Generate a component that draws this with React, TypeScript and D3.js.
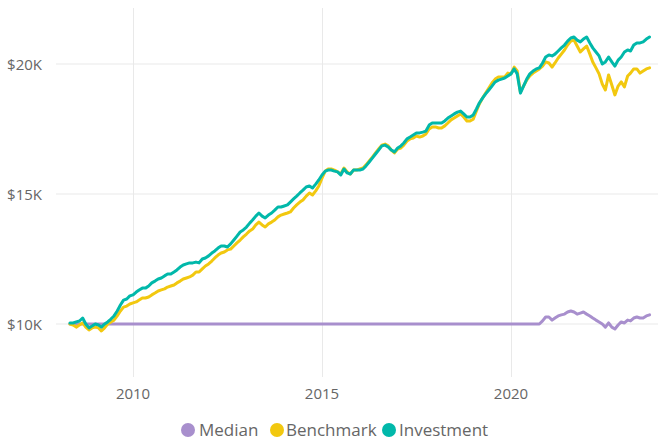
import React from "react";
import * as d3 from "d3";

const START_YEAR = 2008;
const START_MONTH = 4; // May (0-based)

const investment = [
  10040,10040,10080,10115,10230,10000,9850,9920,10000,9960,9880,10000,10080,10190,10310,
  10500,10730,10920,10960,11080,11120,11230,11310,11380,11380,11460,11580,11650,11730,11770,
  11850,11920,11920,12000,12080,12190,12270,12310,12350,12350,12380,12350,12500,12540,12620,
  12730,12810,12920,13000,13000,12960,13080,13230,13380,13540,13620,13730,13880,14000,14150,
  14270,14150,14080,14190,14270,14380,14500,14500,14540,14580,14690,14810,14920,15040,15150,
  15270,15310,15230,15380,15540,15730,15880,15920,15920,15880,15850,15730,15960,15810,15770,
  15920,15920,15920,15960,16080,16230,16380,16540,16690,16850,16880,16810,16690,16620,16770,
  16850,16960,17120,17190,17270,17350,17350,17380,17420,17650,17730,17730,17730,17730,17810,
  17920,18000,18080,18150,18190,18080,17960,17960,18040,18270,18500,18690,18850,19000,19150,
  19310,19380,19420,19460,19540,19620,19810,19620,18880,19150,19420,19620,19730,19810,19850,
  20040,20270,20350,20310,20380,20500,20620,20730,20880,21000,21040,20920,20850,20960,21040,
  20810,20620,20460,20310,20000,20080,20270,20080,19920,20150,20270,20460,20540,20500,20730,
  20810,20810,20850,20960,21040,
];

const benchmark = [
  10000,9960,9880,9960,10040,9880,9770,9850,9880,9850,9730,9850,10000,10080,10150,
  10310,10500,10650,10690,10770,10810,10850,10920,11000,11000,11040,11120,11190,11270,11310,
  11350,11420,11460,11500,11580,11650,11730,11770,11810,11880,12000,12000,12120,12230,12310,
  12420,12540,12650,12730,12770,12850,12880,13000,13120,13230,13350,13460,13580,13650,13810,
  13920,13810,13730,13850,13920,14000,14120,14190,14230,14270,14310,14460,14580,14690,14770,
  14920,15040,14960,15120,15310,15610,15880,15960,15960,15920,15850,15770,16000,15850,15770,
  15920,15920,15960,16000,16120,16270,16420,16580,16730,16880,16920,16850,16690,16580,16730,
  16770,16880,17040,17120,17150,17230,17190,17230,17310,17500,17580,17580,17540,17540,17620,
  17730,17850,17920,18000,18080,17960,17810,17810,17880,18190,18460,18690,18880,19080,19270,
  19420,19500,19500,19500,19650,19620,19880,19730,18920,19150,19380,19540,19650,19730,19810,
  19920,20080,20040,19880,20040,20230,20380,20540,20730,20880,20920,20690,20460,20580,20690,
  20380,20080,19850,19620,19230,19000,19580,19190,18810,19150,19310,19120,19540,19650,19810,
  19810,19650,19730,19810,19850,
];

const median = [
  10000,10000,10000,10000,10000,10000,10000,10000,10000,10000,10000,10000,10000,10000,10000,
  10000,10000,10000,10000,10000,10000,10000,10000,10000,10000,10000,10000,10000,10000,10000,
  10000,10000,10000,10000,10000,10000,10000,10000,10000,10000,10000,10000,10000,10000,10000,
  10000,10000,10000,10000,10000,10000,10000,10000,10000,10000,10000,10000,10000,10000,10000,
  10000,10000,10000,10000,10000,10000,10000,10000,10000,10000,10000,10000,10000,10000,10000,
  10000,10000,10000,10000,10000,10000,10000,10000,10000,10000,10000,10000,10000,10000,10000,
  10000,10000,10000,10000,10000,10000,10000,10000,10000,10000,10000,10000,10000,10000,10000,
  10000,10000,10000,10000,10000,10000,10000,10000,10000,10000,10000,10000,10000,10000,10000,
  10000,10000,10000,10000,10000,10000,10000,10000,10000,10000,10000,10000,10000,10000,10000,
  10000,10000,10000,10000,10000,10000,10000,10000,10000,10000,10000,10000,10000,10000,10000,
  10120,10270,10270,10150,10230,10310,10350,10380,10460,10500,10460,10380,10420,10460,10380,
  10310,10230,10150,10080,10000,9880,10040,9880,9810,9960,10080,10040,10150,10120,10230,
  10270,10230,10230,10310,10350,
];

const yTicks = [10000, 15000, 20000];
const yTickLabels = ["$10K", "$15K", "$20K"];
const xTickYears = [2010, 2015, 2020];

const seriesNames = ["Median", "Benchmark", "Investment"];
const seriesColors = ["#A88FCD", "#F2C80F", "#01B8AA"];

const W = 658;
const H = 443;
const FONT = "'Segoe UI', 'Open Sans', sans-serif";

export default function App() {
  const x = d3
    .scaleTime()
    .domain([new Date(2008, 0, 1), new Date(2024, 0, 1)])
    .range([57.4, 662.2]);
  const y = d3.scaleLinear().domain([10000, 20000]).range([324, 64]);

  const dates = investment.map((_, i) => new Date(START_YEAR, START_MONTH + i, 1));
  const seriesData = [median, benchmark, investment];

  const line = d3
    .line<number>()
    .x((_, i) => x(dates[i]))
    .y((d) => y(d));

  const legendItems = [
    { cx: 188, tx: 199 },
    { cx: 277, tx: 286 },
    { cx: 389, tx: 399 },
  ];

  return (
    <svg
      width={W}
      height={H}
      style={{ position: "absolute", left: 0, top: 0, background: "#fff" }}
      fontFamily={FONT}
    >
      {yTicks.map((t) => (
        <line key={"hg" + t} x1={56} x2={W} y1={y(t)} y2={y(t)} stroke="#E9E9E9" strokeWidth={1} />
      ))}
      {xTickYears.map((yr) => {
        const xx = Math.round(x(new Date(yr, 0, 1))) + 0.5;
        return <line key={"vg" + yr} x1={xx} x2={xx} y1={8} y2={377} stroke="#E9E9E9" strokeWidth={1} />;
      })}
      {yTicks.map((t, i) => (
        <text key={"yl" + t} x={42} y={y(t) + 5.5} textAnchor="end" fontSize={15} fill="#666">
          {yTickLabels[i]}
        </text>
      ))}
      {xTickYears.map((yr) => (
        <text key={"xl" + yr} x={x(new Date(yr, 0, 1))} y={399} textAnchor="middle" fontSize={15} fill="#666">
          {yr}
        </text>
      ))}
      {seriesData.map((s, i) => (
        <path
          key={"s" + i}
          d={line(s) || ""}
          fill="none"
          stroke={seriesColors[i]}
          strokeWidth={3}
          strokeLinejoin="round"
          strokeLinecap="round"
        />
      ))}
      {seriesNames.map((n, i) => (
        <g key={"lg" + n}>
          <circle cx={legendItems[i].cx} cy={430} r={7} fill={seriesColors[i]} />
          <text x={legendItems[i].tx} y={436} fontSize={17} fill="#666">
            {n}
          </text>
        </g>
      ))}
    </svg>
  );
}
